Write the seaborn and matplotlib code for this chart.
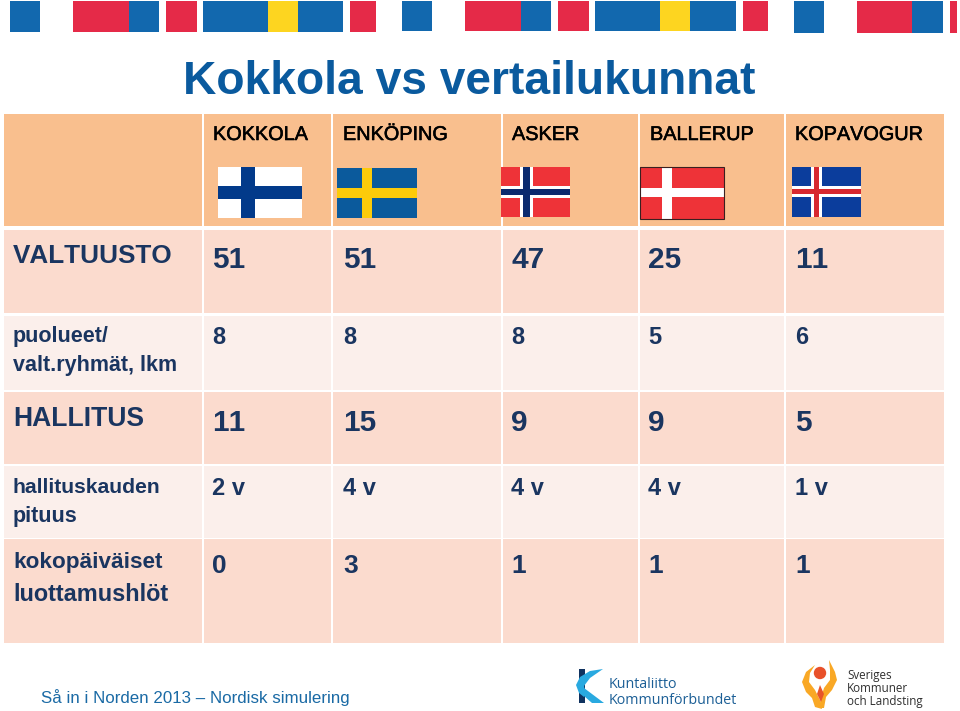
import numpy as np
import matplotlib
matplotlib.use("Agg")
import matplotlib.pyplot as plt
import matplotlib.patheffects as pe
from matplotlib.colors import ListedColormap
from matplotlib.patches import Rectangle, Polygon, Circle
import seaborn as sns

TITLE = "Kokkola vs vertailukunnat"
FOOTER = "Så in i Norden 2013 – Nordisk simulering"
MUNICIPALITIES = ["KOKKOLA", "ENKÖPING", "ASKER", "BALLERUP", "KOPAVOGUR"]
ROW_LABELS = ["VALTUUSTO", "puolueet/\nvalt.ryhmät, lkm", "HALLITUS",
              "hallituskauden\npituus", "kokopäiväiset\nluottamushlöt"]
VALTUUSTO = ["51", "51", "47", "25", "11"]
PUOLUEET = ["8", "8", "8", "5", "6"]
HALLITUS = ["11", "15", "9", "9", "5"]
KAUSI = ["2 v", "4 v", "4 v", "4 v", "1 v"]
KOKOPAIVAISET = ["0", "3", "1", "1", "1"]

BLUE, RED, YEL = "#1268ae", "#e52a48", "#fdd520"
INK = "#1a3560"

sns.set_theme(style="white")
plt.rcParams["font.family"] = ["Liberation Sans", "DejaVu Sans"]
plt.rcParams["text.kerning_factor"] = 6
W, H = 960, 711
fig = plt.figure(figsize=(W / 100, H / 100), dpi=100, facecolor="white")


def pixel_axes(x0, y0, x1, y1, z):
    return fig.add_axes([x0 / W, 1 - y1 / H, (x1 - x0) / W, (y1 - y0) / H], zorder=z)


# table body drawn as a seaborn heatmap on a pixel-resolution grid
col_w = [198, 2, 127, 2, 168, 2, 135, 2, 144, 2, 158]   # 4..944
row_h = [112, 4, 83, 3, 74, 2, 72, 2, 72, 1, 104]       # 114..643
row_lv = [1, 0, 2, 0, 3, 0, 2, 0, 3, 0, 2]
col_on = [1, 0, 1, 0, 1, 0, 1, 0, 1, 0, 1]
levels = np.outer(row_lv, col_on)
grid = np.repeat(np.repeat(levels, row_h, axis=0), col_w, axis=1)
tax = pixel_axes(4, 114, 4 + sum(col_w), 114 + sum(row_h), 1)
sns.heatmap(grid, ax=tax, cbar=False, vmin=0, vmax=3, xticklabels=False, yticklabels=False,
            cmap=ListedColormap(["#ffffff", "#f9bf8e", "#fbdbce", "#fbefeb"]))
tax.collections[0].set_antialiased(False)
tax.set_axis_off()

ax = pixel_axes(0, 0, W, H, 2)
ax.set_xlim(0, W)
ax.set_ylim(H, 0)
ax.set_axis_off()
ax.patch.set_alpha(0)


def rect(x0, y0, x1, y1, c, **kw):
    ax.add_patch(Rectangle((x0, y0), x1 - x0, y1 - y0, fc=c, ec="none", **kw))


# banner
for x0, x1, c, y1 in [(10, 40, BLUE, 32), (73, 129, RED, 32), (129, 159, BLUE, 32), (166, 197, RED, 32),
                      (203, 268, BLUE, 32), (268, 298, YEL, 32), (298, 343, BLUE, 32), (350, 376, RED, 32),
                      (402, 432, BLUE, 31), (465, 521, RED, 31), (521, 551, BLUE, 31), (558, 589, RED, 31),
                      (595, 660, BLUE, 31), (660, 690, YEL, 31), (690, 736, BLUE, 31), (743, 768, RED, 31),
                      (794, 824, BLUE, 33), (857, 912, RED, 33), (912, 943, BLUE, 33), (950, 957, RED, 33)]:
    rect(x0, 1, x1, y1, c)

ax.text(183, 93.5, TITLE, fontsize=33.2, fontweight="bold", color="#0a5a9e", va="baseline", ha="left")

# header
stroke = [pe.withStroke(linewidth=0.4, foreground="black")]
for name, x in zip(MUNICIPALITIES, [213, 343, 512, 650, 795]):
    ax.text(x, 140, name, fontsize=14.3, color="black", va="baseline", path_effects=stroke)


# flags
def flag(x0, y0, x1, y1, bg, cross, vx, hy, cross2=None, vx2=None, hy2=None, edge=None):
    rect(x0, y0, x1, y1, bg)
    rect(vx[0], y0, vx[1], y1, cross)
    rect(x0, hy[0], x1, hy[1], cross)
    if cross2:
        rect(vx2[0], y0, vx2[1], y1, cross2)
        rect(x0, hy2[0], x1, hy2[1], cross2)
    if edge:
        ax.add_patch(Rectangle((x0, y0), x1 - x0, y1 - y0, fc="none", ec=edge, lw=0.8))


flag(218, 167, 302, 218, "#ffffff", "#023a8a", (241, 255), (186, 199))
flag(337, 168, 417, 218, "#0b5a9c", "#fdcb0a", (362, 372), (188, 198))
flag(501, 167, 570, 217, "#ee3338", "#ffffff", (520, 533), (186, 198), "#0b2a6e", (523, 530), (189, 195))
flag(640, 167, 724, 218.5, "#ee3338", "#ffffff", (662, 672), (188, 197), edge="#3a2020")
flag(792, 167, 861, 217, "#0b3d9c", "#ffffff", (811, 822), (186, 197), "#d7282f", (814, 819), (189, 194))

# rows
for vals, fs, base in [(VALTUUSTO, 21.5, 268), (PUOLUEET, 17, 344), (HALLITUS, 21.5, 431),
                       (KAUSI, 17, 495), (KOKOPAIVAISET, 19, 573)]:
    for v, x in zip(vals, [212, 343, 511, 648, 795]):
        ax.text(x, base, v, fontsize=fs, fontweight="bold", color=INK, va="baseline")

label_style = [((18.8,), (263,)), ((15.5, 15.5), (342, 371)), ((19.1,), (426,)),
               ((15.2, 15.5), (493, 522)), ((16.2, 16.9), (568, 601))]
for label, (sizes, bases) in zip(ROW_LABELS, label_style):
    for line, fs, b in zip(label.split("\n"), sizes, bases):
        ax.text(13, b, line, fontsize=fs, fontweight="bold", color=INK, va="baseline")

# footer
ax.text(41, 703, FOOTER, fontsize=12.2, color="#1a6aa5", va="baseline")

# Kuntaliitto logo
rect(579, 669, 585, 703, "#10325f")
ax.add_patch(Polygon([(603, 669), (590, 671), (580, 677), (576, 685), (579, 693), (584, 697), (585, 692),
                      (584, 686), (590, 678)], fc="#29a9e0", ec="none"))
ax.add_patch(Polygon([(584, 688), (604, 703), (592, 703), (584, 696)], fc="#29a9e0", ec="none"))
ax.text(609, 688, "Kuntaliitto", fontsize=10.3, family="Open Sans", color="#1c5f96", va="baseline")
ax.text(609, 704, "Kommunförbundet", fontsize=10.3, family="Open Sans", color="#1c5f96", va="baseline")

# SKL logo
ax.add_patch(Polygon([(815, 665), (806, 672), (802, 682), (806, 692), (812, 698), (815, 707), (822, 709),
                      (820, 700), (815, 690), (809, 682), (810, 673)], fc="#f9a825", ec="none"))
ax.add_patch(Polygon([(829, 660), (835, 672), (837, 680), (832, 690), (826, 697), (824, 708), (819, 708),
                      (821, 698), (824, 688), (830, 680), (830, 670)], fc="#f9a825", ec="none"))
ax.add_patch(Polygon([(820, 685), (824, 694), (821, 702), (817, 694)], fc="#e8552a", ec="none"))
ax.add_patch(Circle((820, 673), 6.2, fc="#e8502a", ec="none"))
for t, y in zip(["Sveriges", "Kommuner", "och Landsting"], [679, 692, 705]):
    ax.text(847, y, t, fontsize=8.4, family="Open Sans", color="#303030", va="baseline")

fig.savefig("out.png", dpi=100, facecolor="white")
